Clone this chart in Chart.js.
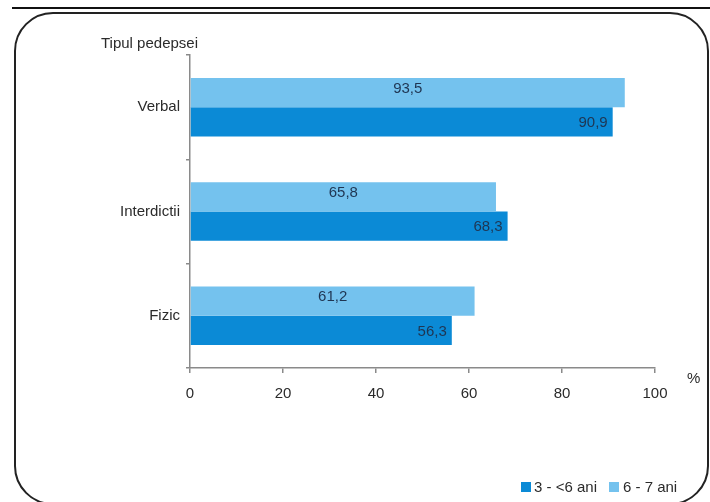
<!DOCTYPE html>
<html>
<head>
<meta charset="utf-8">
<script src="https://cdn.jsdelivr.net/npm/chart.js@4/dist/chart.umd.min.js"></script>
<style>
  html,body{margin:0;padding:0;background:#fff;}
  #wrap{width:710px;height:502px;position:relative;}
</style>
</head>
<body>
<div id="wrap"><canvas id="c" width="710" height="502"></canvas></div>
<script>
const categories = ['Verbal', 'Interdictii', 'Fizic'];
const seriesOlder = [93.5, 65.8, 61.2];   // 6 - 7 ani
const seriesYounger = [90.9, 68.3, 56.3]; // 3 - <6 ani
const seriesNames = ['6 - 7 ani', '3 - <6 ani'];
const xTicks = [0, 20, 40, 60, 80, 100];
const yTitle = 'Tipul pedepsei';
const unitLabel = '%';

const FONT = "'Liberation Sans', Arial, sans-serif";
const FS = 15;
const LIGHT = '#74c2ee';
const DARK = '#0b8ad6';
const TEXT = '#2b2b2b';

const fmt = v => v.toFixed(1).replace('.', ',');

const decor = {
  id: 'decor',
  beforeDraw(chart) {
    const ctx = chart.ctx;
    ctx.save();
    ctx.fillStyle = '#fff';
    ctx.fillRect(0, 0, chart.width, chart.height);
    ctx.strokeStyle = '#111';
    ctx.lineWidth = 2;
    ctx.beginPath();
    ctx.moveTo(12, 8);
    ctx.lineTo(710, 8);
    ctx.stroke();
    ctx.strokeStyle = '#222';
    ctx.lineWidth = 2;
    ctx.beginPath();
    ctx.roundRect(15, 13, 693, 491, 38);
    ctx.stroke();
    ctx.restore();
  },
  afterDatasetsDraw(chart) {
    const ctx = chart.ctx;
    ctx.save();
    ctx.font = FS + 'px ' + FONT;
    ctx.fillStyle = '#1f3552';
    ctx.textBaseline = 'middle';
    chart.data.datasets.forEach((ds, di) => {
      const meta = chart.getDatasetMeta(di);
      meta.data.forEach((bar, i) => {
        const v = ds.data[i];
        if (di === 0) {
          ctx.textAlign = 'center';
          ctx.fillText(fmt(v), (bar.base + bar.x) / 2, bar.y - 4);
        } else {
          ctx.textAlign = 'right';
          ctx.fillText(fmt(v), bar.x - 5, bar.y + 1);
        }
      });
    });
    ctx.fillStyle = TEXT;
    ctx.textAlign = 'left';
    ctx.fillText(yTitle, 101, 44);
    ctx.fillText(unitLabel, 687, 379);
    const items = [
      {label: chart.data.datasets[1].label, color: chart.data.datasets[1].backgroundColor, box: 521, text: 534},
      {label: chart.data.datasets[0].label, color: chart.data.datasets[0].backgroundColor, box: 609, text: 623}
    ];
    items.forEach(it => {
      ctx.fillStyle = it.color;
      ctx.fillRect(it.box, 482, 10, 10);
      ctx.fillStyle = TEXT;
      ctx.fillText(it.label, it.text, 488);
    });
    ctx.restore();
  }
};

new Chart(document.getElementById('c'), {
  type: 'bar',
  data: {
    labels: categories,
    datasets: [
      {label: seriesNames[0], data: seriesOlder, backgroundColor: LIGHT, barPercentage: 1, categoryPercentage: 0.56},
      {label: seriesNames[1], data: seriesYounger, backgroundColor: DARK, barPercentage: 1, categoryPercentage: 0.56}
    ]
  },
  options: {
    indexAxis: 'y',
    responsive: false,
    animation: false,
    devicePixelRatio: 1,
    layout: {padding: {left: 0, right: 55, top: 55, bottom: 94}},
    plugins: {legend: {display: false}, tooltip: {enabled: false}},
    scales: {
      x: {
        min: 0, max: 100,
        afterBuildTicks: s => { s.ticks = xTicks.map(v => ({value: v})); },
        afterFit: s => { s.height = 40; },
        grid: {drawOnChartArea: false, drawTicks: true, tickLength: 5, color: '#8a8a8a', lineWidth: 1.5},
        border: {display: true, color: '#8a8a8a', width: 1.5},
        ticks: {font: {family: FONT, size: FS}, color: TEXT, padding: 12, maxRotation: 0}
      },
      y: {
        afterFit: s => { s.width = 190; },
        grid: {drawOnChartArea: false, drawTicks: true, tickLength: 4, offset: true, color: '#8a8a8a', lineWidth: 1.5},
        border: {display: true, color: '#8a8a8a', width: 1.5},
        ticks: {font: {family: FONT, size: FS}, color: TEXT, padding: 6}
      }
    }
  },
  plugins: [decor]
});
</script>
</body>
</html>
